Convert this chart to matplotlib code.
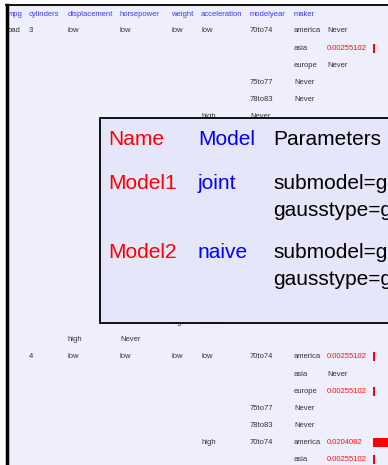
import matplotlib.pyplot as plt
from matplotlib.patches import Rectangle

plt.rcParams['font.family'] = ['Liberation Sans', 'DejaVu Sans']

# column headers of the table
headers = ["mpg", "cylinders", "displacement", "horsepower", "weight",
           "acceleration", "modelyear", "maker"]

# visible rows: (row index, first column, cells...)
rows = [
    (0, 0, ["bad", "3", "low", "low", "low", "low", "70to74", "america", "Never"]),
    (1, 7, ["asia", "0.00255102"]),
    (2, 7, ["europe", "Never"]),
    (3, 6, ["75to77", "Never"]),
    (4, 6, ["78to83", "Never"]),
    (5, 5, ["high", "Never"]),
    (17, 4, ["high", "Never"]),
    (18, 2, ["high", "Never"]),
    (19, 1, ["4", "low", "low", "low", "low", "70to74", "america", "0.00255102"]),
    (20, 7, ["asia", "Never"]),
    (21, 7, ["europe", "0.00255102"]),
    (22, 6, ["75to77", "Never"]),
    (23, 6, ["78to83", "Never"]),
    (24, 5, ["high", "70to74", "america", "0.0204082"]),
    (25, 7, ["asia", "0.00255102"]),
]

# overlay box content
box_names = ["Name", "Model1", "Model2"]
box_models = ["Model", "joint", "naive"]
box_params = [["Parameters"],
              ["submodel=gaussian", "gausstype=gaussian"],
              ["submodel=gaussian", "gausstype=gaussian"]]

W, H = 388, 465
col_x = [8, 29, 68, 120, 171, 201, 250, 294, 327]
bar_x = 373
bar_scale = 980  # px per unit probability
row0, row_h = 31, 17.15

fig = plt.figure(figsize=(W / 100, H / 100), dpi=100)
fig.patch.set_facecolor("white")
ax = fig.add_axes([0, 0, 1, 1])
ax.set_xlim(0, W)
ax.set_ylim(H, 0)
ax.axis("off")

ax.add_patch(Rectangle((7, 5), W, H, facecolor="#EEEEFC", edgecolor="none", zorder=0))

small = 5.5
for i, h in enumerate(headers):
    ax.text(col_x[i], 14, h, fontsize=small, color="#3C3CFF", va="center", ha="left")

for r, c0, cells in rows:
    y = row0 + r * row_h
    for j, txt in enumerate(cells):
        col = c0 + j
        is_num = txt[0].isdigit() and "." in txt
        ax.text(col_x[col], y, txt, fontsize=small,
                color="#FF1010" if is_num else "#333333", va="center", ha="left", zorder=2)
        if is_num:
            ax.barh(y, float(txt) * bar_scale, left=bar_x, height=9,
                    color="#FF0000", zorder=2)

# overlay box
ax.add_patch(Rectangle((100, 118), 300, 205, facecolor="#E6E6FA",
                       edgecolor="black", linewidth=1.3, zorder=5))
box_rows_y = [139, 183, 252]
for k in range(3):
    y = box_rows_y[k]
    ax.text(108, y, box_names[k], fontsize=15, color="#FF0000", va="center", zorder=6)
    ax.text(198, y, box_models[k], fontsize=15, color="#0000FF", va="center", zorder=6)
    for m, p in enumerate(box_params[k]):
        ax.text(273, y + m * 27, p, fontsize=15, color="black", va="center", zorder=6)

# frame lines
ax.plot([6, W], [5, 5], color="black", linewidth=1.3, zorder=8)
ax.plot([7, 7], [5, H], color="black", linewidth=2.5, zorder=8)

fig.savefig("out.png", dpi=100)
